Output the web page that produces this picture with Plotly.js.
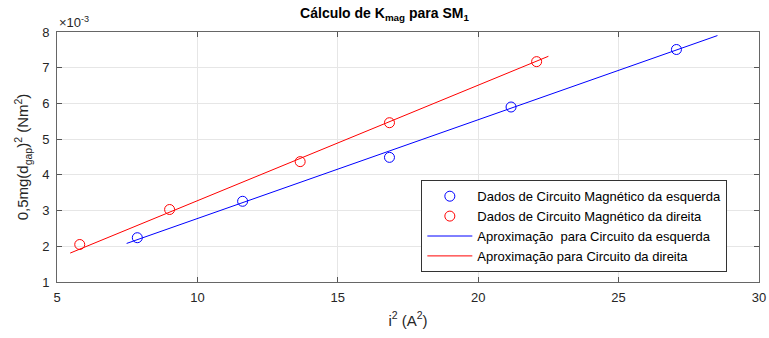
<!DOCTYPE html>
<html>
<head>
<meta charset="utf-8">
<script src="https://cdn.plot.ly/plotly-3.0.1.min.js"></script>
<style>html,body{margin:0;padding:0;background:#fff;}#chart{width:769px;height:338px;}</style>
</head>
<body>
<div id="chart"></div>
<script>
// Data (y in N·m²)
const xLeft  = [7.86, 11.61, 16.84, 21.17, 27.06];
const yLeft  = [0.00224, 0.00326, 0.00449, 0.00590, 0.00751];
const xRight = [5.81, 9.01, 13.66, 16.84, 22.08];
const yRight = [0.00205, 0.00303, 0.00437, 0.00546, 0.00717];
const fitLeftX  = [7.48, 28.52];
const fitLeftY  = [0.00208, 0.00790];
const fitRightX = [5.47, 22.50];
const fitRightY = [0.00181, 0.00732];
const yTickVals = [0.001, 0.002, 0.003, 0.004, 0.005, 0.006, 0.007, 0.008];
const yTickText = ['1', '2', '3', '4', '5', '6', '7', '8'];
const xTickVals = [5, 10, 15, 20, 25, 30];
const names = [
  'Dados de Circuito Magnético da esquerda',
  'Dados de Circuito Magnético da direita',
  'Aproximação\u00a0 para Circuito da esquerda',
  'Aproximação para Circuito da direita'
];

const FONT = 'Liberation Sans, Arial, Helvetica, sans-serif';
const AX = '#262626';

const traces = [
  {x: xLeft, y: yLeft, type: 'scatter', mode: 'markers', name: names[0],
   marker: {symbol: 'circle-open', size: 10, color: '#0000ff', line: {width: 1, color: '#0000ff'}}},
  {x: xRight, y: yRight, type: 'scatter', mode: 'markers', name: names[1],
   marker: {symbol: 'circle-open', size: 10, color: '#ff0000', line: {width: 1, color: '#ff0000'}}},
  {x: fitLeftX, y: fitLeftY, type: 'scatter', mode: 'lines', name: names[2],
   line: {color: '#0000ff', width: 1}},
  {x: fitRightX, y: fitRightY, type: 'scatter', mode: 'lines', name: names[3],
   line: {color: '#ff0000', width: 1}}
];

const layout = {
  width: 769, height: 338,
  margin: {l: 57, r: 10, t: 32, b: 56},
  paper_bgcolor: '#ffffff', plot_bgcolor: '#ffffff',
  font: {family: FONT, size: 13, color: AX},
  showlegend: true,
  title: {text: '<b>Cálculo de K<sub>mag</sub> para SM<sub>1</sub></b>',
          font: {family: FONT, size: 14, color: '#000'}, x: 0.5, xanchor: 'center', y: 0.96, yanchor: 'middle'},
  xaxis: {
    range: [5, 30], tickvals: xTickVals, ticks: 'inside', ticklen: 5, tickcolor: '#555',
    showline: true, linecolor: '#666', linewidth: 1, mirror: 'ticks',
    showgrid: true, gridcolor: '#e6e6e6', zeroline: false,
    tickfont: {size: 13, color: AX}, ticklabelstandoff: 3,
    title: {text: 'i<sup>2</sup> (A<sup>2</sup>)', font: {size: 15, color: AX}, standoff: 11}
  },
  yaxis: {
    range: [0.001, 0.008], tickvals: yTickVals, ticktext: yTickText, ticks: 'inside', ticklen: 5, tickcolor: '#555',
    showline: true, linecolor: '#666', linewidth: 1, mirror: 'ticks',
    showgrid: true, gridcolor: '#e6e6e6', zeroline: false,
    tickfont: {size: 13, color: AX}, ticklabelstandoff: 4,
    title: {text: '0,5mg(d<sub>gap</sub>)<sup>2</sup> (Nm<sup>2</sup>)', font: {size: 15, color: AX}, standoff: 9}
  },
  legend: {
    x: 0.519, y: 0.407, xanchor: 'left', yanchor: 'top',
    bgcolor: '#ffffff', bordercolor: '#333', borderwidth: 1,
    font: {family: FONT, size: 13, color: '#000'},
    itemwidth: 45, tracegroupgap: 0
  },
  annotations: [
    {text: '\u00d710<sup>-3</sup>', xref: 'paper', yref: 'paper', x: 0, y: 1, xanchor: 'left', yanchor: 'bottom',
     showarrow: false, font: {size: 13, color: AX}, yshift: 0}
  ]
};

Plotly.newPlot('chart', traces, layout, {displayModeBar: false, staticPlot: true});
</script>
</body>
</html>
